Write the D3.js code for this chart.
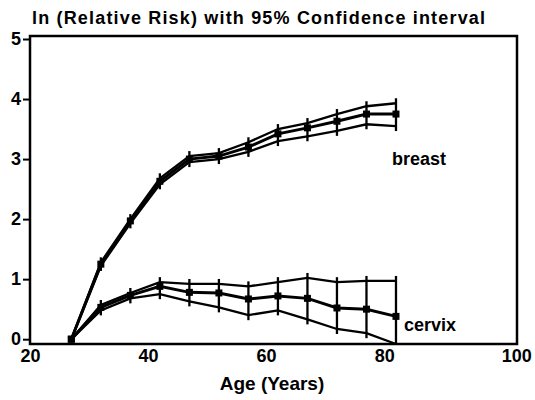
<!doctype html>
<html>
<head>
  <meta charset="utf8">
  <title>ln relative risk</title>
  <style>
    body { margin: 0; padding: 0; background: #fff; }
    text { font-family: "Liberation Sans", Arial, sans-serif; font-weight: bold; fill: #000; }
  </style>
</head>
<body>
  <svg></svg>
  <script src="https://d3js.org/d3.v7.min.js"></script>
  <script>
    // values (ln relative risk by age group)
    const ages = [27, 32, 37, 42, 47, 52, 57, 62, 67, 72, 77, 82]

    const breastMid   = [0, 1.25, 1.97, 2.63, 3.00, 3.05, 3.20, 3.42, 3.52, 3.63, 3.75, 3.75]
    const breastUpper = [0, 1.28, 2.00, 2.68, 3.05, 3.10, 3.28, 3.50, 3.60, 3.75, 3.88, 3.93]
    const breastLower = [0, 1.22, 1.93, 2.58, 2.95, 3.00, 3.12, 3.30, 3.38, 3.47, 3.58, 3.55]

    const cervixMid   = [0, 0.53, 0.73, 0.88, 0.78, 0.77, 0.67, 0.72, 0.68, 0.52, 0.50, 0.38]
    const cervixUpper = [0, 0.57, 0.77, 0.95, 0.92, 0.92, 0.88, 0.95, 1.02, 0.95, 0.97, 0.97]
    const cervixLower = [0, 0.48, 0.68, 0.75, 0.63, 0.53, 0.40, 0.48, 0.33, 0.17, 0.10, -0.08]

    const xTicks = [20, 40, 60, 80, 100]
    const yTicks = [0, 1, 2, 3, 4, 5]

    const width = 535
    const height = 400

    const svg = d3.select('svg')
      .attr('width', width)
      .attr('height', height)

    const x = d3.scaleLinear().domain([20, 102.5]).range([30, 517])
    const y = d3.scaleLinear().domain([-0.08, 5.05]).range([344, 36])

    // frame
    svg.append('rect')
      .attr('x', x(20)).attr('y', y(5.05))
      .attr('width', x(102.5) - x(20)).attr('height', y(-0.08) - y(5.05))
      .style('fill', 'none').style('stroke', '#000').style('stroke-width', 2.5)

    // y axis
    const yAxis = svg.append('g')
      .attr('transform', `translate(${x(20)},0)`)
      .call(d3.axisLeft(y).tickValues(yTicks).tickSize(7).tickPadding(2).tickFormat(d3.format('d')))
    yAxis.select('.domain').remove()
    yAxis.selectAll('line').style('stroke-width', 2)
    yAxis.selectAll('text').style('font-size', '18px').style('font-family', null)

    // x axis (labels only)
    const xAxis = svg.append('g')
      .attr('transform', `translate(0,${y(-0.08)})`)
      .call(d3.axisBottom(x).tickValues(xTicks).tickSize(0).tickPadding(5))
    xAxis.select('.domain').remove()
    xAxis.selectAll('text').style('font-size', '18px').style('font-family', null)
    xAxis.selectAll('.tick').filter(d => d === 100).select('text')
      .attr('text-anchor', 'start').attr('x', -1)

    svg.append('text')
      .attr('x', 32).attr('y', 24)
      .attr('textLength', 453).attr('lengthAdjust', 'spacing')
      .style('font-size', '18px')
      .text('ln (Relative Risk) with 95% Confidence interval')

    svg.append('text')
      .attr('x', 272).attr('y', 390)
      .attr('text-anchor', 'middle')
      .style('font-size', '19px')
      .text('Age (Years)')

    const line = d3.line().x(d => x(d[0])).y(d => y(d[1]))

    function series (mid, upper, lower) {
      const g = svg.append('g')
      const z = (vals) => ages.map((a, i) => [a, vals[i]])
      g.append('path').attr('d', line(z(upper)))
        .style('fill', 'none').style('stroke', '#000').style('stroke-width', 2.3)
      g.append('path').attr('d', line(z(lower)))
        .style('fill', 'none').style('stroke', '#000').style('stroke-width', 2.3)
      g.append('path').attr('d', line(z(mid)))
        .style('fill', 'none').style('stroke', '#000').style('stroke-width', 3)
      // error bars
      g.selectAll('line.err').data(ages.slice(1)).join('line')
        .attr('class', 'err')
        .attr('x1', d => x(d)).attr('x2', d => x(d))
        .attr('y1', (d, i) => y(upper[i + 1]) - 5)
        .attr('y2', (d, i) => Math.min(y(lower[i + 1]) + 5, y(-0.08)))
        .style('stroke', '#000').style('stroke-width', 2.3)
      g.selectAll('rect.pt').data(ages).join('rect')
        .attr('class', 'pt')
        .attr('x', d => x(d) - 3.5).attr('y', (d, i) => y(mid[i]) - 3.5)
        .attr('width', 7).attr('height', 7)
        .style('fill', '#000')
    }

    series(breastMid, breastUpper, breastLower)
    series(cervixMid, cervixUpper, cervixLower)

    svg.append('text').attr('x', 392).attr('y', 165)
      .style('font-size', '18px').text('breast')
    svg.append('text').attr('x', 404).attr('y', 331)
      .style('font-size', '18px').text('cervix')
  </script>
</body>
</html>
